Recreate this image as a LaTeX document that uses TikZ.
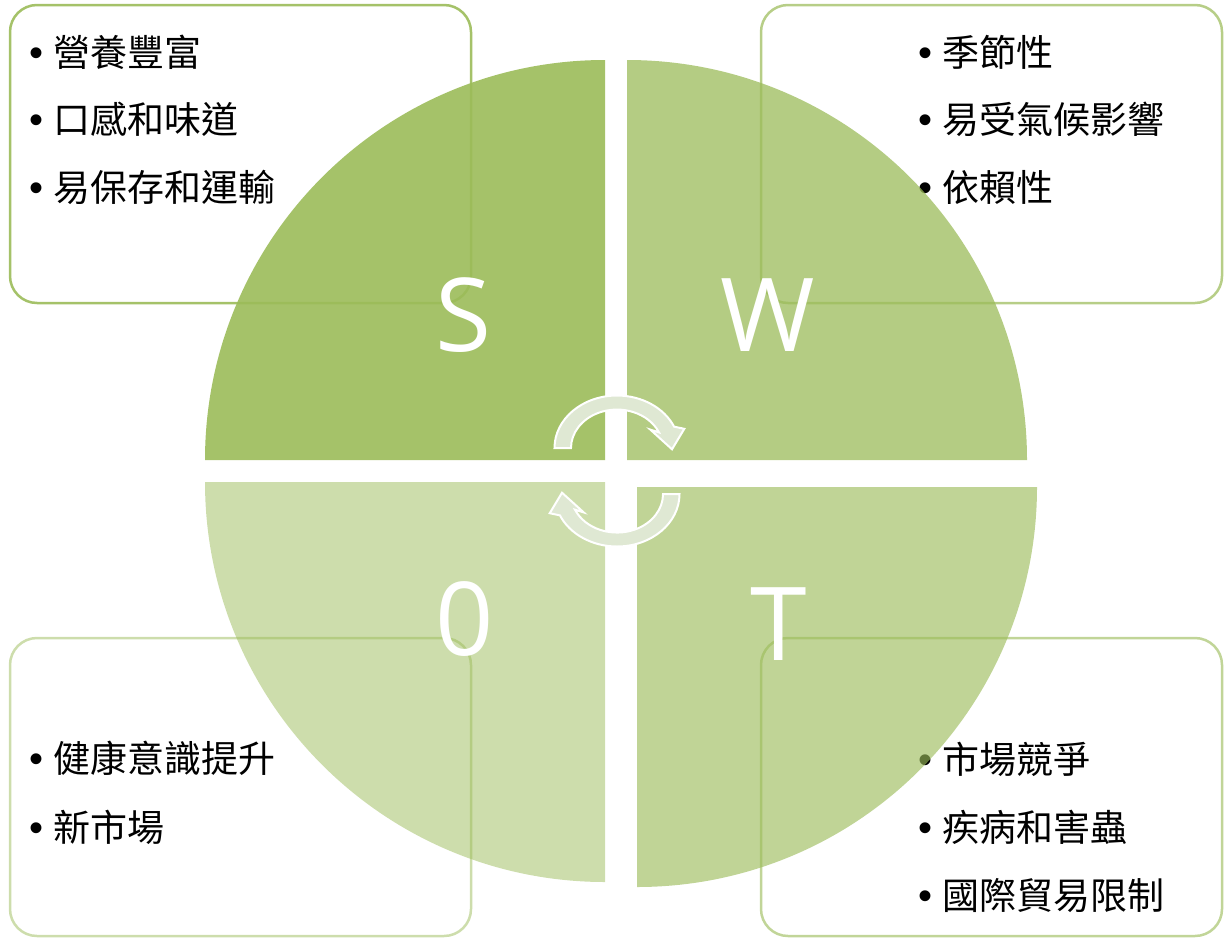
\documentclass[tikz,border=0pt]{standalone}
\usepackage{fontspec}
\setmainfont{Noto Sans CJK TC}
\newfontfamily\latinfont{Open Sans}
\newfontfamily\bulfont{Liberation Sans}
\definecolor{acc}{HTML}{9BBB59}
\definecolor{arrowfill}{HTML}{DFE8D3}
\newcommand\bul{\makebox[0pt][c]{\bulfont\fontsize{40}{40}\selectfont •}\hspace{17pt}}
\begin{document}
\begin{tikzpicture}[x=1pt,y=1pt,
  box/.style={draw=acc, line width=2.5pt, rounded corners=27pt},
  item/.style={anchor=west, inner sep=0pt, text=black, font=\fontsize{37}{40}\selectfont},
  letter/.style={text=white, inner sep=0pt, font=\latinfont\fontsize{102}{110}\selectfont},
  cyc/.style={fill=arrowfill, draw=white, line width=2pt, line join=miter}]
\useasboundingbox (0,0) rectangle (1230,-945);
% boxes
\draw[box, draw opacity=0.9] (10,-5) rectangle (471,-303);
\draw[box, draw opacity=0.72] (761,-5) rectangle (1222,-303);
\draw[box, draw opacity=0.5] (10,-638) rectangle (471,-936);
\draw[box, draw opacity=0.62] (761,-638) rectangle (1222,-936);
% items
\node[item] (s1) at (36.5,-52) {\bul 營養豐富};
\node[item] (s2) at (36.5,-119) {\bul 口感和味道};
\node[item] (s3) at (36.5,-187) {\bul 易保存和運輸};
\node[item] (w1) at (925.5,-52) {\bul 季節性};
\node[item] (w2) at (925.5,-119) {\bul 易受氣候影響};
\node[item] (w3) at (925.5,-187) {\bul 依賴性};
\node[item] (o1) at (36.5,-758) {\bul 健康意識提升};
\node[item] (o2) at (36.5,-827) {\bul 新市場};
\node[item] (t1) at (925.5,-759) {\bul 市場競爭};
\node[item] (t2) at (925.5,-827) {\bul 疾病和害蟲};
\node[item] (t3) at (925.5,-896) {\bul 國際貿易限制};
% quadrants
\fill[acc, fill opacity=0.9] (605,-460) -- ++(-400,0) arc[start angle=180, end angle=90, radius=400pt] -- cycle;
\fill[acc, fill opacity=0.75] (627,-460) -- ++(0,400) arc[start angle=90, end angle=0, radius=400pt] -- cycle;
\fill[acc, fill opacity=0.5] (605,-482) -- ++(-400,0) arc[start angle=180, end angle=270, radius=400pt] -- cycle;
\fill[acc, fill opacity=0.63] (637,-487) -- ++(400,0) arc[start angle=0, end angle=-90, radius=400pt] -- cycle;
% letters
\node[letter] (S) at (463,-315) {S};
\node[letter] (W) at (768,-315) {W};
\node[letter] (O) at (465,-619) {0};
\node[letter] (T) at (779,-624) {T};
% cycle arrows
\path[cyc] (554.5,-448) arc[start angle=180, end angle=24, x radius=62.5pt, y radius=52.5pt]
  -- (684.3,-428.8) -- (672,-449.3) -- (650.3,-429.6) -- (659.0,-432.4)
  arc[start angle=24, end angle=180, x radius=46pt, y radius=38.5pt] -- cycle;
\path[cyc] (679.5,-494) arc[start angle=0, end angle=-156, x radius=62.5pt, y radius=52.5pt]
  -- (549.7,-513.2) -- (562,-492.7) -- (583.7,-512.4) -- (575.0,-509.7)
  arc[start angle=-156, end angle=0, x radius=46pt, y radius=38.5pt] -- cycle;
\end{tikzpicture}
\end{document}
